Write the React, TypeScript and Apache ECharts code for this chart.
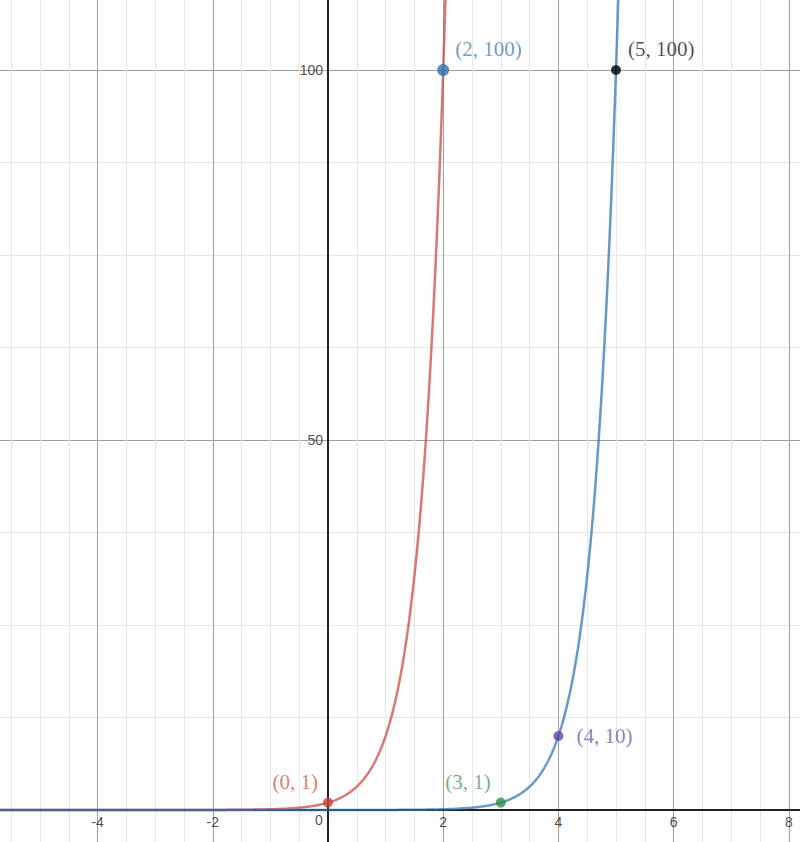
import React, { useEffect, useRef } from "react";
import * as echarts from "echarts";

// Plotted functions: red y = 10^x, blue y = 10^(x - 3)
const redBase = 10;
const redShift = 0;
const blueBase = 10;
const blueShift = 3;

// Sample positions for drawing the function curves
const redRange = [-6, 2.1];
const blueRange = [-6, 5.1];

// Labelled points
const pointLabels = ["(0, 1)", "(2, 100)", "(5, 100)", "(4, 10)", "(3, 1)"];
const pointX = [0, 2, 5, 4, 3];
const pointY = [1, 100, 100, 10, 1];
const pointColors = ["#c74440", "#2d70b3", "#000000", "#6042a6", "#388c46"];

// Axis ranges & ticks
const xMin = -6;
const xMax = 8.5;
const xInterval = 2;
const yMin = -50;
const yMax = 150;
const yInterval = 50;
const xTickLabels = [-4, -2, 2, 4, 6, 8];
const yTickLabels = [50, 100];
const originLabel = "0";

function sampleCurve(base: number, shift: number, range: number[]) {
  const pts: number[][] = [];
  const n = 1200;
  for (let i = 0; i <= n; i++) {
    const x = range[0] + ((range[1] - range[0]) * i) / n;
    pts.push([x, Math.pow(base, x - shift)]);
  }
  return pts;
}

export default function App() {
  const ref = useRef<HTMLDivElement>(null);
  useEffect(() => {
    if (!ref.current) return;
    const chart = echarts.init(ref.current, null, { renderer: "svg" });
    const pxX = 57.6;
    const pxY = 7.4;
    const gridW = (xMax - xMin) * pxX;
    const gridH = (yMax - yMin) * pxY;
    const left = 328 + xMin * pxX;
    const top = 810 - yMax * pxY;
    const labelFont = "Liberation Serif, Times New Roman, serif";
    const tickFont = "Liberation Sans, Arial, sans-serif";

    const labelCfg = [
      { position: "left", distance: 5, offset: [0, -21] },
      { position: "right", distance: 6, offset: [0, -21] },
      { position: "right", distance: 7, offset: [0, -21] },
      { position: "right", distance: 13, offset: [0, 0] },
      { position: "left", distance: 5, offset: [0, -21] },
    ];
    const sizes = [10, 12, 10, 10, 10];

    const axisCommon = {
      type: "value",
      axisLine: { onZero: true, lineStyle: { color: "#222", width: 2 } },
      axisTick: { show: false },
      axisLabel: { show: false },
      minorTick: { show: false, splitNumber: 4 },
      splitLine: { show: true, lineStyle: { color: "#a0a0a0", width: 1 } },
      minorSplitLine: { show: true, lineStyle: { color: "#e6e6e6", width: 1 } },
    };

    const tickLabelStyle = {
      fontFamily: tickFont,
      fontSize: 14,
      color: "#1a1a1a",
    };

    chart.setOption({
      animation: false,
      backgroundColor: "#ffffff",
      grid: {
        left: left,
        top: top,
        width: gridW,
        height: gridH,
        containLabel: false,
        outerBoundsMode: "none",
      },
      xAxis: { ...axisCommon, min: xMin, max: xMax, interval: xInterval },
      yAxis: { ...axisCommon, min: yMin, max: yMax, interval: yInterval },
      series: [
        {
          type: "line",
          data: sampleCurve(redBase, redShift, redRange),
          showSymbol: false,
          clip: true,
          z: 3,
          lineStyle: { color: "#c74440", width: 2.5, opacity: 0.72 },
        },
        {
          type: "line",
          data: sampleCurve(blueBase, blueShift, blueRange),
          showSymbol: false,
          clip: true,
          z: 3,
          lineStyle: { color: "#2d70b3", width: 2.5, opacity: 0.72 },
        },
        // x tick labels
        {
          type: "scatter",
          z: 4,
          symbolSize: 0,
          silent: true,
          data: xTickLabels.map((v) => [v, 0]),
          label: {
            show: true,
            position: "bottom",
            distance: 5,
            formatter: (p: any) => String(p.value[0]),
            ...tickLabelStyle,
          },
        },
        // origin label
        {
          type: "scatter",
          z: 4,
          symbolSize: 0,
          silent: true,
          data: [[0, 0]],
          label: {
            show: true,
            position: "bottom",
            distance: 3,
            offset: [-9, 0],
            formatter: originLabel,
            ...tickLabelStyle,
          },
        },
        // y tick labels
        {
          type: "scatter",
          z: 4,
          symbolSize: 0,
          silent: true,
          data: yTickLabels.map((v) => [0, v]),
          label: {
            show: true,
            position: "left",
            distance: 5,
            formatter: (p: any) => String(p.value[1]),
            ...tickLabelStyle,
          },
        },
        ...pointX.map((x, i) => ({
          type: "scatter",
          z: 5,
          symbol: "circle",
          symbolSize: sizes[i],
          itemStyle: { color: pointColors[i] },
          data: [[x, pointY[i]]],
          label: {
            show: true,
            formatter: pointLabels[i],
            position: labelCfg[i].position,
            distance: labelCfg[i].distance,
            offset: labelCfg[i].offset,
            fontFamily: labelFont,
            fontSize: 21,
            color: pointColors[i],
            opacity: 0.7,
          },
        })),
      ],
    });
    return () => chart.dispose();
  }, []);
  return (
    <div
      ref={ref}
      style={{ position: "absolute", left: 0, top: 0, width: 800, height: 842 }}
    />
  );
}
